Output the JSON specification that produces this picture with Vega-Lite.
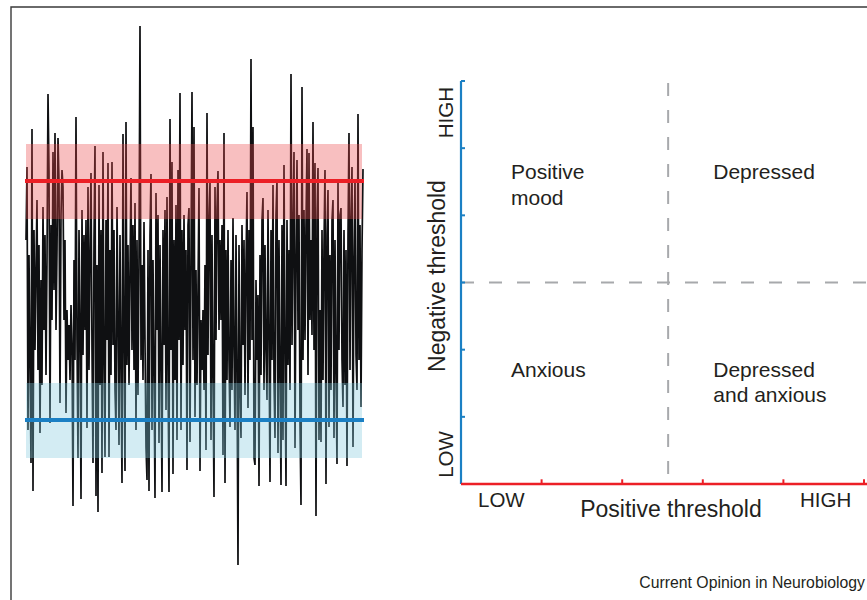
{
  "$schema": "https://vega.github.io/schema/vega-lite/v6.json",
  "width": 867,
  "height": 600,
  "autosize": {"type": "none"},
  "padding": 0,
  "background": "white",
  "config": {"view": {"stroke": null}, "font": "Liberation Sans", "text": {"font": "Liberation Sans"}},
  "datasets": {
    "series": [
      {"i":0,"v":60},{"i":1,"v":133},{"i":2,"v":-130},{"i":3,"v":45},{"i":4,"v":-60},{"i":5,"v":-163},{"i":6,"v":171},{"i":7,"v":-191},{"i":8,"v":70},{"i":9,"v":-50},
      {"i":10,"v":30},{"i":11,"v":100},{"i":12,"v":-70},{"i":13,"v":55},{"i":14,"v":-133},{"i":15,"v":20},{"i":16,"v":-85},{"i":17,"v":93},{"i":18,"v":-30},{"i":19,"v":65},
      {"i":20,"v":-75},{"i":21,"v":40},{"i":22,"v":206},{"i":23,"v":128},{"i":24,"v":-123},{"i":25,"v":75},{"i":26,"v":-20},{"i":27,"v":148},{"i":28,"v":10},{"i":29,"v":167},
      {"i":30,"v":-30},{"i":31,"v":50},{"i":32,"v":162},{"i":33,"v":118},{"i":34,"v":-103},{"i":35,"v":85},{"i":36,"v":130},{"i":37,"v":113},{"i":38,"v":-20},{"i":39,"v":60},
      {"i":40,"v":-113},{"i":41,"v":-10},{"i":42,"v":-60},{"i":43,"v":-25},{"i":44,"v":-80},{"i":45,"v":-5},{"i":46,"v":-45},{"i":47,"v":-206},{"i":48,"v":40},{"i":49,"v":-60},
      {"i":50,"v":183},{"i":51,"v":-40},{"i":52,"v":-158},{"i":53,"v":70},{"i":54,"v":-20},{"i":55,"v":-199},{"i":56,"v":90},{"i":57,"v":-55},{"i":58,"v":65},{"i":59,"v":-30},
      {"i":60,"v":80},{"i":61,"v":-128},{"i":62,"v":113},{"i":63,"v":-70},{"i":64,"v":45},{"i":65,"v":127},{"i":66,"v":-50},{"i":67,"v":-163},{"i":68,"v":60},{"i":69,"v":154},
      {"i":70,"v":-196},{"i":71,"v":35},{"i":72,"v":-212},{"i":73,"v":115},{"i":74,"v":-85},{"i":75,"v":70},{"i":76,"v":-173},{"i":77,"v":148},{"i":78,"v":-60},{"i":79,"v":-157},
      {"i":80,"v":80},{"i":81,"v":-40},{"i":82,"v":137},{"i":83,"v":-157},{"i":84,"v":50},{"i":85,"v":-75},{"i":86,"v":138},{"i":87,"v":-45},{"i":88,"v":70},{"i":89,"v":-90},
      {"i":90,"v":-130},{"i":91,"v":93},{"i":92,"v":-20},{"i":93,"v":-145},{"i":94,"v":65},{"i":95,"v":-60},{"i":96,"v":-183},{"i":97,"v":166},{"i":98,"v":-40},{"i":99,"v":-171},
      {"i":100,"v":178},{"i":101,"v":-65},{"i":102,"v":55},{"i":103,"v":-85},{"i":104,"v":30},{"i":105,"v":122},{"i":106,"v":-50},{"i":107,"v":75},{"i":108,"v":-70},{"i":109,"v":97},
      {"i":110,"v":-130},{"i":111,"v":60},{"i":112,"v":-95},{"i":113,"v":45},{"i":114,"v":274},{"i":115,"v":-60},{"i":116,"v":35},{"i":117,"v":-80},{"i":118,"v":78},{"i":119,"v":-40},
      {"i":120,"v":-147},{"i":121,"v":-180},{"i":122,"v":50},{"i":123,"v":-191},{"i":124,"v":65},{"i":125,"v":126},{"i":126,"v":-130},{"i":127,"v":40},{"i":128,"v":-70},{"i":129,"v":-198},
      {"i":130,"v":107},{"i":131,"v":-30},{"i":132,"v":85},{"i":133,"v":-143},{"i":134,"v":55},{"i":135,"v":-60},{"i":136,"v":-192},{"i":137,"v":70},{"i":138,"v":-45},{"i":139,"v":90},
      {"i":140,"v":-110},{"i":141,"v":103},{"i":142,"v":-75},{"i":143,"v":-192},{"i":144,"v":181},{"i":145,"v":-50},{"i":146,"v":138},{"i":147,"v":-174},{"i":148,"v":60},{"i":149,"v":-80},
      {"i":150,"v":95},{"i":151,"v":-140},{"i":152,"v":130},{"i":153,"v":-40},{"i":154,"v":207},{"i":155,"v":-130},{"i":156,"v":70},{"i":157,"v":-65},{"i":158,"v":85},{"i":159,"v":-30},
      {"i":160,"v":50},{"i":161,"v":-170},{"i":162,"v":75},{"i":163,"v":92},{"i":164,"v":-142},{"i":165,"v":40},{"i":166,"v":208},{"i":167,"v":-60},{"i":168,"v":173},{"i":169,"v":-117},
      {"i":170,"v":30},{"i":171,"v":-85},{"i":172,"v":10},{"i":173,"v":112},{"i":174,"v":-171},{"i":175,"v":-20},{"i":176,"v":-70},{"i":177,"v":-10},{"i":178,"v":-90},{"i":179,"v":35},
      {"i":180,"v":-150},{"i":181,"v":187},{"i":182,"v":-55},{"i":183,"v":80},{"i":184,"v":117},{"i":185,"v":-140},{"i":186,"v":65},{"i":187,"v":-75},{"i":188,"v":-197},{"i":189,"v":113},
      {"i":190,"v":-40},{"i":191,"v":90},{"i":192,"v":129},{"i":193,"v":-30},{"i":194,"v":60},{"i":195,"v":-20},{"i":196,"v":75},{"i":197,"v":-155},{"i":198,"v":167},{"i":199,"v":-183},
      {"i":200,"v":50},{"i":201,"v":-80},{"i":202,"v":70},{"i":203,"v":-60},{"i":204,"v":-127},{"i":205,"v":40},{"i":206,"v":-90},{"i":207,"v":82},{"i":208,"v":-50},{"i":209,"v":-130},
      {"i":210,"v":65},{"i":211,"v":-70},{"i":212,"v":-265},{"i":213,"v":55},{"i":214,"v":-85},{"i":215,"v":-138},{"i":216,"v":75},{"i":217,"v":-45},{"i":218,"v":60},{"i":219,"v":-95},
      {"i":220,"v":35},{"i":221,"v":108},{"i":222,"v":-108},{"i":223,"v":70},{"i":224,"v":-60},{"i":225,"v":241},{"i":226,"v":-40},{"i":227,"v":173},{"i":228,"v":-158},{"i":229,"v":-165},
      {"i":230,"v":20},{"i":231,"v":-60},{"i":232,"v":5},{"i":233,"v":-186},{"i":234,"v":45},{"i":235,"v":-75},{"i":236,"v":80},{"i":237,"v":102},{"i":238,"v":-90},{"i":239,"v":55},
      {"i":240,"v":-50},{"i":241,"v":-100},{"i":242,"v":90},{"i":243,"v":-35},{"i":244,"v":-182},{"i":245,"v":70},{"i":246,"v":-60},{"i":247,"v":115},{"i":248,"v":-80},{"i":249,"v":-138},
      {"i":250,"v":85},{"i":251,"v":120},{"i":252,"v":-153},{"i":253,"v":60},{"i":254,"v":-70},{"i":255,"v":-185},{"i":256,"v":75},{"i":257,"v":-140},{"i":258,"v":135},{"i":259,"v":-50},
      {"i":260,"v":-186},{"i":261,"v":80},{"i":262,"v":-65},{"i":263,"v":50},{"i":264,"v":-90},{"i":265,"v":226},{"i":266,"v":-45},{"i":267,"v":70},{"i":268,"v":148},{"i":269,"v":-148},
      {"i":270,"v":40},{"i":271,"v":140},{"i":272,"v":-30},{"i":273,"v":85},{"i":274,"v":-123},{"i":275,"v":-205},{"i":276,"v":213},{"i":277,"v":-60},{"i":278,"v":90},{"i":279,"v":-40},
      {"i":280,"v":75},{"i":281,"v":151},{"i":282,"v":-75},{"i":283,"v":147},{"i":284,"v":-20},{"i":285,"v":60},{"i":286,"v":-35},{"i":287,"v":178},{"i":288,"v":-50},{"i":289,"v":137},
      {"i":290,"v":-216},{"i":291,"v":80},{"i":292,"v":132},{"i":293,"v":-140},{"i":294,"v":-10},{"i":295,"v":-142},{"i":296,"v":70},{"i":297,"v":-80},{"i":298,"v":55},{"i":299,"v":130},
      {"i":300,"v":-184},{"i":301,"v":65},{"i":302,"v":110},{"i":303,"v":-127},{"i":304,"v":45},{"i":305,"v":-90},{"i":306,"v":80},{"i":307,"v":100},{"i":308,"v":-138},{"i":309,"v":60},
      {"i":310,"v":-70},{"i":311,"v":-164},{"i":312,"v":117},{"i":313,"v":-50},{"i":314,"v":85},{"i":315,"v":92},{"i":316,"v":-60},{"i":317,"v":-107},{"i":318,"v":70},{"i":319,"v":-85},
      {"i":320,"v":50},{"i":321,"v":-166},{"i":322,"v":65},{"i":323,"v":167},{"i":324,"v":-70},{"i":325,"v":80},{"i":326,"v":133},{"i":327,"v":-147},{"i":328,"v":40},{"i":329,"v":120},
      {"i":330,"v":-55},{"i":331,"v":-90},{"i":332,"v":186},{"i":333,"v":-60},{"i":334,"v":75},{"i":335,"v":-107},{"i":336,"v":50},{"i":337,"v":131}
    ]
  },
  "layer": [
    {
      "layer": [
        {
          "data": {"values": [{"i1": -15, "i2": 2000, "v1": 293, "v2": -1000}]},
          "mark": {"type": "rect", "filled": false, "stroke": "#3a3a3a", "strokeWidth": 1.4},
          "encoding": {
            "x": {"field": "i1", "type": "quantitative", "scale": {"domain": [0, 337], "range": [26, 363], "nice": false, "zero": false}, "axis": null},
            "x2": {"field": "i2"},
            "y": {"field": "v1", "type": "quantitative", "scale": {"domain": [-300, 300], "range": [600, 0], "nice": false, "zero": false}, "axis": null},
            "y2": {"field": "v2"}
          }
        },
        {
          "data": {"name": "series"},
          "mark": {"type": "line", "color": "#0f1012", "strokeWidth": 1.7, "strokeJoin": "miter", "strokeMiterLimit": 2},
          "encoding": {
            "x": {"field": "i", "type": "quantitative", "scale": {"domain": [0, 337], "range": [26, 363], "nice": false, "zero": false}, "axis": null},
            "y": {"field": "v", "type": "quantitative", "scale": {"domain": [-300, 300], "range": [600, 0], "nice": false, "zero": false}, "axis": null}
          }
        },
        {
          "data": {"values": [{"band": "positive threshold range", "i1": 0, "i2": 336, "lo": 81, "hi": 156}]},
          "mark": {"type": "rect", "color": "#ea474a", "opacity": 0.35},
          "encoding": {
            "x": {"field": "i1", "type": "quantitative", "scale": {"domain": [0, 337], "range": [26, 363], "nice": false, "zero": false}, "axis": null},
            "x2": {"field": "i2"},
            "y": {"field": "lo", "type": "quantitative", "scale": {"domain": [-300, 300], "range": [600, 0], "nice": false, "zero": false}, "axis": null},
            "y2": {"field": "hi"}
          }
        },
        {
          "data": {"values": [{"band": "negative threshold range", "i1": 0, "i2": 336, "lo": -158, "hi": -83}]},
          "mark": {"type": "rect", "color": "#81c8dc", "opacity": 0.35},
          "encoding": {
            "x": {"field": "i1", "type": "quantitative", "scale": {"domain": [0, 337], "range": [26, 363], "nice": false, "zero": false}, "axis": null},
            "x2": {"field": "i2"},
            "y": {"field": "lo", "type": "quantitative", "scale": {"domain": [-300, 300], "range": [600, 0], "nice": false, "zero": false}, "axis": null},
            "y2": {"field": "hi"}
          }
        },
        {
          "data": {"values": [{"threshold": "positive", "i1": -1, "i2": 338, "v": 119}]},
          "mark": {"type": "rule", "color": "#ec1f26", "strokeWidth": 4},
          "encoding": {
            "x": {"field": "i1", "type": "quantitative", "scale": {"domain": [0, 337], "range": [26, 363], "nice": false, "zero": false}, "axis": null},
            "x2": {"field": "i2"},
            "y": {"field": "v", "type": "quantitative", "scale": {"domain": [-300, 300], "range": [600, 0], "nice": false, "zero": false}, "axis": null}
          }
        },
        {
          "data": {"values": [{"threshold": "negative", "i1": -1, "i2": 338, "v": -120}]},
          "mark": {"type": "rule", "color": "#1b80c4", "strokeWidth": 4},
          "encoding": {
            "x": {"field": "i1", "type": "quantitative", "scale": {"domain": [0, 337], "range": [26, 363], "nice": false, "zero": false}, "axis": null},
            "x2": {"field": "i2"},
            "y": {"field": "v", "type": "quantitative", "scale": {"domain": [-300, 300], "range": [600, 0], "nice": false, "zero": false}, "axis": null}
          }
        }
      ]
    },
    {
      "layer": [
        {
          "data": {"values": [{"pos": 2.57, "y0": 0, "y1": 5.97}]},
          "mark": {"type": "rule", "color": "#a7a9ac", "strokeWidth": 2, "strokeDash": [13, 14]},
          "encoding": {
            "x": {"field": "pos", "type": "quantitative", "scale": {"domain": [0, 5], "range": [461, 864], "nice": false, "zero": false}, "axis": null},
            "y": {"field": "y1", "type": "quantitative", "scale": {"domain": [0, 6], "range": [484, 81], "nice": false, "zero": false}, "axis": null},
            "y2": {"field": "y0"}
          }
        },
        {
          "data": {"values": [{"pos": 3, "x0": 0, "x1": 5.1}]},
          "mark": {"type": "rule", "color": "#a7a9ac", "strokeWidth": 2, "strokeDash": [13, 15]},
          "encoding": {
            "x": {"field": "x0", "type": "quantitative", "scale": {"domain": [0, 5], "range": [461, 864], "nice": false, "zero": false}, "axis": null},
            "x2": {"field": "x1"},
            "y": {"field": "pos", "type": "quantitative", "scale": {"domain": [0, 6], "range": [484, 81], "nice": false, "zero": false}, "axis": null}
          }
        },
        {
          "data": {"values": [{"level": 1}, {"level": 2}, {"level": 3}, {"level": 4}, {"level": 5}, {"level": 6}]},
          "mark": {"type": "rule", "color": "#1b80c4", "strokeWidth": 2},
          "encoding": {
            "x": {"datum": 0, "type": "quantitative", "scale": {"domain": [0, 5], "range": [461, 864], "nice": false, "zero": false}, "axis": null},
            "x2": {"datum": 0.05},
            "y": {"field": "level", "type": "quantitative", "scale": {"domain": [0, 6], "range": [484, 81], "nice": false, "zero": false}, "axis": null}
          }
        },
        {
          "data": {"values": [{"axis": "Negative threshold", "x": 0, "y0": 0, "y1": 6}]},
          "mark": {"type": "rule", "color": "#1b80c4", "strokeWidth": 2.2},
          "encoding": {
            "x": {"field": "x", "type": "quantitative", "scale": {"domain": [0, 5], "range": [461, 864], "nice": false, "zero": false}, "axis": null},
            "y": {"field": "y0", "type": "quantitative", "scale": {"domain": [0, 6], "range": [484, 81], "nice": false, "zero": false}, "axis": null},
            "y2": {"field": "y1"}
          }
        },
        {
          "data": {"values": [{"level": 1}, {"level": 2}, {"level": 3}, {"level": 4}, {"level": 5}]},
          "mark": {"type": "rule", "color": "#ec1f26", "strokeWidth": 2},
          "encoding": {
            "x": {"field": "level", "type": "quantitative", "scale": {"domain": [0, 5], "range": [461, 864], "nice": false, "zero": false}, "axis": null},
            "y": {"datum": 0, "type": "quantitative", "scale": {"domain": [0, 6], "range": [484, 81], "nice": false, "zero": false}, "axis": null},
            "y2": {"datum": 0.07}
          }
        },
        {
          "data": {"values": [{"axis": "Positive threshold", "x0": 0, "x1": 5.05, "y": 0}]},
          "mark": {"type": "rule", "color": "#ec1f26", "strokeWidth": 2.4},
          "encoding": {
            "x": {"field": "x0", "type": "quantitative", "scale": {"domain": [0, 5], "range": [461, 864], "nice": false, "zero": false}, "axis": null},
            "x2": {"field": "x1"},
            "y": {"field": "y", "type": "quantitative", "scale": {"domain": [0, 6], "range": [484, 81], "nice": false, "zero": false}, "axis": null}
          }
        },
        {
          "data": {"values": [
            {"label": "Positive", "x": 0.62, "y": 4.54},
            {"label": "mood", "x": 0.62, "y": 4.15},
            {"label": "Depressed", "x": 3.13, "y": 4.54},
            {"label": "Anxious", "x": 0.62, "y": 1.59},
            {"label": "Depressed", "x": 3.13, "y": 1.59},
            {"label": "and anxious", "x": 3.13, "y": 1.22}
          ]},
          "mark": {"type": "text", "align": "left", "baseline": "alphabetic", "fontSize": 21, "color": "#231f20", "font": "Liberation Sans"},
          "encoding": {
            "x": {"field": "x", "type": "quantitative", "scale": {"domain": [0, 5], "range": [461, 864], "nice": false, "zero": false}, "axis": null},
            "y": {"field": "y", "type": "quantitative", "scale": {"domain": [0, 6], "range": [484, 81], "nice": false, "zero": false}, "axis": null},
            "text": {"field": "label"}
          }
        },
        {
          "data": {"values": [
            {"label": "LOW", "x": 0.211, "y": -0.342},
            {"label": "HIGH", "x": 4.206, "y": -0.342}
          ]},
          "mark": {"type": "text", "align": "left", "baseline": "alphabetic", "fontSize": 20.5, "color": "#231f20", "font": "Liberation Sans"},
          "encoding": {
            "x": {"field": "x", "type": "quantitative", "scale": {"domain": [0, 5], "range": [461, 864], "nice": false, "zero": false}, "axis": null},
            "y": {"field": "y", "type": "quantitative", "scale": {"domain": [0, 6], "range": [484, 81], "nice": false, "zero": false}, "axis": null},
            "text": {"field": "label"}
          }
        },
        {
          "data": {"values": [{"label": "Positive threshold", "x": 2.605, "y": -0.491}]},
          "mark": {"type": "text", "align": "center", "baseline": "alphabetic", "fontSize": 23, "color": "#231f20", "font": "Liberation Sans"},
          "encoding": {
            "x": {"field": "x", "type": "quantitative", "scale": {"domain": [0, 5], "range": [461, 864], "nice": false, "zero": false}, "axis": null},
            "y": {"field": "y", "type": "quantitative", "scale": {"domain": [0, 6], "range": [484, 81], "nice": false, "zero": false}, "axis": null},
            "text": {"field": "label"}
          }
        },
        {
          "data": {"values": [
            {"label": "HIGH", "x": -0.1, "y": 5.53},
            {"label": "LOW", "x": -0.1, "y": 0.44}
          ]},
          "mark": {"type": "text", "align": "center", "baseline": "alphabetic", "angle": 270, "fontSize": 20.5, "color": "#231f20", "font": "Liberation Sans"},
          "encoding": {
            "x": {"field": "x", "type": "quantitative", "scale": {"domain": [0, 5], "range": [461, 864], "nice": false, "zero": false}, "axis": null},
            "y": {"field": "y", "type": "quantitative", "scale": {"domain": [0, 6], "range": [484, 81], "nice": false, "zero": false}, "axis": null},
            "text": {"field": "label"}
          }
        },
        {
          "data": {"values": [{"label": "Negative threshold", "x": -0.2, "y": 3.097}]},
          "mark": {"type": "text", "align": "center", "baseline": "alphabetic", "angle": 270, "fontSize": 23, "color": "#231f20", "font": "Liberation Sans"},
          "encoding": {
            "x": {"field": "x", "type": "quantitative", "scale": {"domain": [0, 5], "range": [461, 864], "nice": false, "zero": false}, "axis": null},
            "y": {"field": "y", "type": "quantitative", "scale": {"domain": [0, 6], "range": [484, 81], "nice": false, "zero": false}, "axis": null},
            "text": {"field": "label"}
          }
        },
        {
          "data": {"values": [{"label": "Current Opinion in Neurobiology", "x": 5.012, "y": -1.548}]},
          "mark": {"type": "text", "align": "right", "baseline": "alphabetic", "fontSize": 15.8, "color": "#231f20", "font": "Liberation Sans"},
          "encoding": {
            "x": {"field": "x", "type": "quantitative", "scale": {"domain": [0, 5], "range": [461, 864], "nice": false, "zero": false}, "axis": null},
            "y": {"field": "y", "type": "quantitative", "scale": {"domain": [0, 6], "range": [484, 81], "nice": false, "zero": false}, "axis": null},
            "text": {"field": "label"}
          }
        }
      ]
    }
  ],
  "resolve": {"scale": {"x": "independent", "y": "independent"}}
}
